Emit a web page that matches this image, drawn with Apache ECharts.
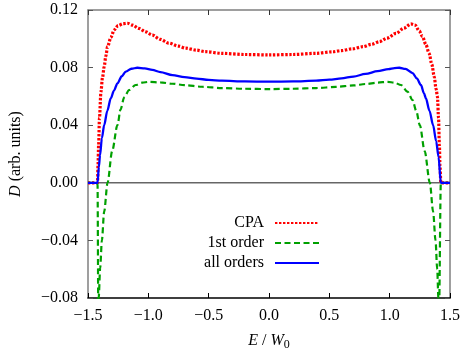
<!DOCTYPE html>
<html>
<head>
<meta charset="utf-8">
<script src="https://cdn.jsdelivr.net/npm/echarts@6/dist/echarts.min.js"></script>
<style>html,body{margin:0;padding:0;background:#fff}#c{width:463px;height:357px}</style>
</head>
<body>
<div id="c"></div>
<script>
// ---- data ----
var seriesNames = ['CPA', '1st order', 'all orders'];
var xTicks = [-1.5, -1.0, -0.5, 0.0, 0.5, 1.0, 1.5];
var yTicks = [-0.08, -0.04, 0.00, 0.04, 0.08, 0.12];

var xCPA = [-1.5, -1.421, -1.417, -1.412, -1.405, -1.393, -1.38, -1.366, -1.352, -1.338, -1.31, -1.284, -1.25, -1.21, -1.173, -1.13, -1.08, -1.02, -0.967, -0.9, -0.83, -0.75, -0.69, -0.6, -0.53, -0.39, -0.2, 0, 0.2, 0.39, 0.53, 0.6, 0.69, 0.777, 0.85, 0.915, 0.98, 1.053, 1.12, 1.176, 1.21, 1.245, 1.272, 1.30, 1.327, 1.35, 1.369, 1.385, 1.396, 1.405, 1.412, 1.417, 1.424, 1.5];
var yCPA = [0, 0, 0.012, 0.026, 0.045, 0.063, 0.073, 0.0806, 0.088, 0.0945, 0.101, 0.1061, 0.1092, 0.1105, 0.1108, 0.1095, 0.1072, 0.1048, 0.1026, 0.0996, 0.0970, 0.0949, 0.0935, 0.0921, 0.0911, 0.0899, 0.0891, 0.0888, 0.0891, 0.0899, 0.0910, 0.0918, 0.0930, 0.0945, 0.0962, 0.0980, 0.1005, 0.1038, 0.1075, 0.1103, 0.1096, 0.1055, 0.1015, 0.0960, 0.0899, 0.0820, 0.0737, 0.065, 0.0598, 0.045, 0.026, 0.012, 0, 0];

var x1st = [-1.5, -1.421, -1.4145, -1.4115, -1.399, -1.385, -1.366, -1.338, -1.30, -1.256, -1.23, -1.2, -1.16, -1.105, -1.05, -0.995, -0.9, -0.8, -0.7, -0.555, -0.39, -0.2, 0, 0.2, 0.39, 0.555, 0.7, 0.8, 0.9, 0.984, 1.04, 1.094, 1.148, 1.19, 1.22, 1.25, 1.29, 1.333, 1.36, 1.38, 1.394, 1.404, 1.409, 1.424, 1.5];
var y1st = [0, 0, -0.09, -0.08, -0.059, -0.040, -0.020, 0, 0.022, 0.040, 0.051, 0.0594, 0.0644, 0.0679, 0.0695, 0.0701, 0.0697, 0.0688, 0.0678, 0.0667, 0.0658, 0.0653, 0.0651, 0.0653, 0.0658, 0.0666, 0.0676, 0.0686, 0.0696, 0.0701, 0.0695, 0.0679, 0.0633, 0.0575, 0.050, 0.040, 0.022, 0, -0.020, -0.040, -0.060, -0.080, -0.09, 0, 0];

var xAll = [-1.5, -1.421, -1.41, -1.40, -1.385, -1.366, -1.34, -1.311, -1.285, -1.256, -1.22, -1.187, -1.14, -1.091, -1.03, -0.967, -0.9, -0.8, -0.7, -0.6, -0.5, -0.39, -0.2, 0, 0.2, 0.39, 0.5, 0.6, 0.7, 0.8, 0.9, 0.99, 1.04, 1.08, 1.13, 1.19, 1.225, 1.259, 1.285, 1.30, 1.33, 1.36, 1.385, 1.405, 1.424, 1.5];
var yAll = [0, 0, 0.011, 0.0193, 0.031, 0.040, 0.050, 0.0587, 0.064, 0.0691, 0.0740, 0.0772, 0.0792, 0.0799, 0.0794, 0.0784, 0.0769, 0.0748, 0.0734, 0.0723, 0.0715, 0.0709, 0.0704, 0.0702, 0.0704, 0.0709, 0.0716, 0.0725, 0.0738, 0.0756, 0.0775, 0.0790, 0.0797, 0.0799, 0.0791, 0.0762, 0.0725, 0.0679, 0.0620, 0.0587, 0.050, 0.040, 0.029, 0.018, 0, 0];

var zeroLine = [-1.5, 1.5];

function pairs(xs, ys) { return xs.map(function (x, i) { return [x, ys[i]]; }); }

var FONT = 'Liberation Serif';
function fmt(v, d) {
  if (Math.abs(v) < 1e-9) v = 0;
  var s = v.toFixed(d);
  return s.charAt(0) === '-' ? '\u2212' + s.slice(1) : s;
}

var chart = echarts.init(document.getElementById('c'), null, { renderer: 'canvas' });
var greyAxis = '#7f7f7f';
var tickLen = 5;

chart.setOption({
  animation: false,
  backgroundColor: '#ffffff',
  grid: { left: 87, right: 12, top: 10, bottom: 59, containLabel: false },
  legend: {
    data: seriesNames,
    orient: 'vertical',
    align: 'right',
    right: 138,
    top: 210,
    itemWidth: 44,
    itemHeight: 14,
    itemGap: 4,
    itemStyle: { opacity: 0, borderWidth: 0, color: 'rgba(0,0,0,0)' },
    textStyle: { fontFamily: FONT, fontSize: 16, color: '#000', padding: [0, 6, 0, 0] },
    selectedMode: false
  },
  xAxis: [{
    type: 'value', min: xTicks[0], max: xTicks[xTicks.length - 1], interval: 0.5,
    position: 'bottom',
    axisLine: { show: true, onZero: false, lineStyle: { color: '#000', width: 1.5 } },
    axisTick: { show: true, inside: true, length: tickLen, lineStyle: { color: '#000', width: 1 } },
    axisLabel: { fontFamily: FONT, fontSize: 16, color: '#000', margin: 10, formatter: function (v) { return fmt(v, 1); } },
    splitLine: { show: false },
    name: '{i|E} / {i|W}{s|0}',
    nameLocation: 'middle',
    nameGap: 33,
    nameTextStyle: {
      fontFamily: FONT, fontSize: 16, color: '#000',
      rich: {
        i: { fontFamily: FONT, fontSize: 16, fontStyle: 'italic', color: '#000' },
        s: { fontFamily: FONT, fontSize: 12, color: '#000', verticalAlign: 'bottom', padding: [8, 0, 0, 0] }
      }
    }
  }, {
    type: 'value', min: xTicks[0], max: xTicks[xTicks.length - 1], interval: 0.5,
    position: 'top',
    axisLine: { show: true, onZero: false, lineStyle: { color: greyAxis, width: 1.5 } },
    axisTick: { show: true, inside: true, length: tickLen, lineStyle: { color: '#333', width: 1 } },
    axisLabel: { show: false },
    splitLine: { show: false }
  }],
  yAxis: [{
    type: 'value', min: yTicks[0], max: yTicks[yTicks.length - 1], interval: 0.04,
    position: 'left',
    axisLine: { show: true, onZero: false, lineStyle: { color: greyAxis, width: 1.5 } },
    axisTick: { show: true, inside: true, length: tickLen, lineStyle: { color: '#555', width: 1 } },
    axisLabel: { fontFamily: FONT, fontSize: 16, color: '#000', margin: 10, formatter: function (v) { return fmt(v, 2); } },
    splitLine: { show: false },
    name: '{i|D} (arb. units)',
    nameLocation: 'middle',
    nameGap: 64,
    nameRotate: 90,
    nameTextStyle: {
      fontFamily: FONT, fontSize: 16, color: '#000',
      rich: { i: { fontFamily: FONT, fontSize: 16, fontStyle: 'italic', color: '#000' } }
    }
  }, {
    type: 'value', min: yTicks[0], max: yTicks[yTicks.length - 1], interval: 0.04,
    position: 'right',
    axisLine: { show: true, onZero: false, lineStyle: { color: greyAxis, width: 1.5 } },
    axisTick: { show: true, inside: true, length: tickLen, lineStyle: { color: '#555', width: 1 } },
    axisLabel: { show: false },
    splitLine: { show: false }
  }],
  series: [{
    name: 'zero',
    type: 'line',
    data: [[zeroLine[0], 0], [zeroLine[1], 0]],
    symbol: 'none',
    silent: true,
    lineStyle: { color: '#666', width: 1.5 },
    z: 1
  }, {
    name: seriesNames[0],
    type: 'line',
    data: pairs(xCPA, yCPA),
    symbol: 'none',
    smooth: 0.3,
    smoothMonotone: 'x',
    clip: true,
    color: '#ff0000',
    lineStyle: { color: '#ff0000', width: 3.2, type: [2.4, 1.6], cap: 'butt' },
    z: 2
  }, {
    name: seriesNames[1],
    type: 'line',
    data: pairs(x1st, y1st),
    symbol: 'none',
    smooth: 0.3,
    smoothMonotone: 'x',
    clip: true,
    color: '#00a000',
    lineStyle: { color: '#00a000', width: 2.2, type: [6, 3.5], cap: 'butt' },
    z: 3
  }, {
    name: seriesNames[2],
    type: 'line',
    data: pairs(xAll, yAll),
    symbol: 'none',
    smooth: 0.3,
    smoothMonotone: 'x',
    clip: true,
    color: '#0000ff',
    lineStyle: { color: '#0000ff', width: 2.3 },
    z: 4
  }]
});
</script>
</body>
</html>
